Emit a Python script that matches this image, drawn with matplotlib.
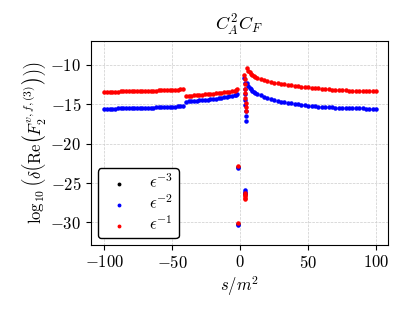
import numpy as np
import matplotlib
matplotlib.use("Agg")
import matplotlib.pyplot as plt

plt.rcParams["mathtext.fontset"] = "cm"
plt.rcParams["font.family"] = "serif"
plt.rcParams["font.serif"] = ["cmr10"]
plt.rcParams["axes.formatter.use_mathtext"] = True

# ── data ──────────────────────────────────────────────────────────────────────
x_left = np.arange(-100, -41, 2)
red_left = [-13.40, -13.40, -13.39, -13.38, -13.38, -13.37, -13.36, -13.36, -13.35, -13.34,
            -13.33, -13.33, -13.32, -13.31, -13.30, -13.29, -13.28, -13.27, -13.26, -13.25,
            -13.24, -13.22, -13.21, -13.20, -13.18, -13.17, -13.15, -13.13, -13.11, -13.08]
blue_left = [-15.55, -15.55, -15.54, -15.54, -15.53, -15.52, -15.52, -15.51, -15.50, -15.50,
             -15.49, -15.48, -15.47, -15.46, -15.45, -15.44, -15.43, -15.42, -15.41, -15.40,
             -15.38, -15.37, -15.35, -15.34, -15.32, -15.30, -15.28, -15.26, -15.24, -15.21]

x_mid = [-40, -38, -36, -34, -32, -30, -28, -26, -24, -22, -20, -18, -16, -14, -12, -10,
         -8, -6, -4, -3, -2.2]
red_mid = [-13.95, -13.92, -13.89, -13.86, -13.83, -13.80, -13.77, -13.74, -13.71, -13.68,
           -13.64, -13.60, -13.56, -13.52, -13.47, -13.42, -13.37, -13.31, -13.25, -13.18, -13.10]
blue_mid = [-14.65, -14.62, -14.59, -14.56, -14.53, -14.50, -14.46, -14.43, -14.39, -14.35,
            -14.31, -14.27, -14.22, -14.17, -14.11, -14.05, -13.98, -13.91, -13.84, -13.76, -13.68]

x_spike = [3.0, 3.15, 3.3, 3.45, 3.6, 3.75, 3.9, 4.05, 4.2]
red_spike = [-11.3, -11.8, -12.4, -13.0, -13.6, -14.2, -14.8, -15.3, -15.9]
blue_spike = [-11.6, -12.3, -13.0, -13.7, -14.4, -15.1, -15.8, -16.5, -17.1]

x_right = [5, 6, 7, 8, 9, 10, 11] + list(np.arange(12.5, 100.1, 2.5))
red_right = [-10.40, -10.70, -10.95, -11.15, -11.30, -11.43, -11.55,
             -11.68, -11.82, -11.95, -12.05, -12.15, -12.24, -12.32, -12.40, -12.47, -12.54,
             -12.60, -12.66, -12.71, -12.76, -12.81, -12.86, -12.90, -12.94, -12.98, -13.02,
             -13.06, -13.10, -13.13, -13.16, -13.19, -13.21, -13.23, -13.25, -13.27, -13.29,
             -13.30, -13.32, -13.33, -13.34, -13.35, -13.36]
blue_right = [-12.30, -12.62, -12.88, -13.08, -13.25, -13.40, -13.52,
              -13.67, -13.86, -14.03, -14.18, -14.31, -14.43, -14.54, -14.64, -14.73, -14.81,
              -14.88, -14.95, -15.01, -15.06, -15.11, -15.16, -15.20, -15.24, -15.28, -15.31,
              -15.34, -15.37, -15.39, -15.41, -15.43, -15.45, -15.46, -15.48, -15.49, -15.50,
              -15.51, -15.52, -15.53, -15.54, -15.54, -15.55]

# isolated points far below the bands
x_iso_red = [-1.7, -1.7, 3.3, 3.3, 3.3, 3.3, 3.3]
y_iso_red = [-22.9, -30.1, -26.3, -26.5, -26.7, -26.9, -27.0]
x_iso_blue = [-1.7, -1.7, 3.3, 3.3, 3.3]
y_iso_blue = [-23.1, -30.3, -25.9, -26.1, -26.3]
x_black = [-1.7, -1.7, 3.3]
y_black = [-23.0, -30.2, -26.4]

x_red = list(x_left) + x_mid + x_spike + x_right + x_iso_red
y_red = red_left + red_mid + red_spike + red_right + y_iso_red
x_blue = list(x_left) + x_mid + x_spike + x_right + x_iso_blue
y_blue = blue_left + blue_mid + blue_spike + blue_right + y_iso_blue

fig = plt.figure(figsize=(4.1, 3.13), dpi=100)
ax = fig.add_axes([0.222, 0.218, 0.724, 0.651])

ax.scatter(x_black, y_black, s=5, color="black", label=r"$\epsilon^{-3}$", zorder=2)
ax.scatter(x_blue, y_blue, s=5, color="blue", label=r"$\epsilon^{-2}$", zorder=3)
ax.scatter(x_red, y_red, s=5, color="red", label=r"$\epsilon^{-1}$", zorder=4)

ax.set_xlim(-109.8, 108.6)
ax.set_ylim(-32.85, -6.95)
ax.set_xticks([-100, -50, 0, 50, 100])
ax.set_yticks([-10, -15, -20, -25, -30])
ax.tick_params(labelsize=12)
ax.grid(True, color="0.8", linestyle="--", linewidth=0.5)

ax.set_title(r"$C_A^2C_F$", fontsize=13, pad=7)
ax.set_xlabel(r"$s/m^2$", fontsize=12, labelpad=2)
ax.set_ylabel(r"$\log_{10}\left(\delta\left(\mathrm{Re}\left(F_2^{v,f,(3)}\right)\right)\right)$",
              fontsize=12, labelpad=2)

leg = ax.legend(loc="lower left", fontsize=12, frameon=True, fancybox=True,
                edgecolor="black", framealpha=1, handletextpad=0.8, borderpad=0.3,
                labelspacing=0.15, borderaxespad=0.4, markerscale=0.8)
leg.get_frame().set_linewidth(1.0)

plt.savefig("out.png", dpi=100)
